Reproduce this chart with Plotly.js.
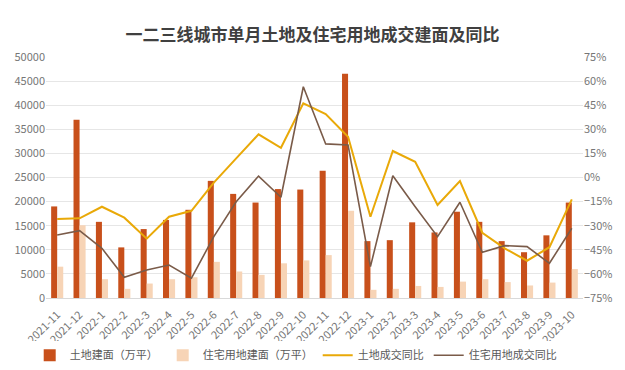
<!DOCTYPE html>
<html>
<head>
<meta charset="utf-8">
<script src="https://cdn.plot.ly/plotly-3.0.1.min.js"></script>
<style>html,body{margin:0;padding:0;background:#fff;}#chart{width:625px;height:370px;}</style>
</head>
<body>
<div id="chart"></div>
<script>
const months = ["2021-11","2021-12","2022-1","2022-2","2022-3","2022-4","2022-5","2022-6","2022-7","2022-8","2022-9","2022-10","2022-11","2022-12","2023-1","2023-2","2023-3","2023-4","2023-5","2023-6","2023-7","2023-8","2023-9","2023-10"];
const landArea = [19000,37000,15800,10500,14300,16200,18300,24300,21600,19800,22600,22500,26400,46500,11800,12000,15700,13600,17900,15800,11800,9500,13000,19800];
const residentialArea = [6500,15100,3900,1900,3000,3900,4300,7500,5500,4800,7200,7800,8900,18100,1700,1900,2500,2300,3400,3900,3300,2600,3200,6000];
const landYoY = [-25.8,-25.4,-18.2,-25.0,-38.1,-24.4,-20.7,-3.2,11.9,26.9,18.5,46.2,39.5,25.4,-24.4,16.5,9.8,-17.1,-2.2,-34.4,-44.1,-51.8,-43.4,-13.6];
const residentialYoY = [-35.8,-33.1,-44.1,-62.1,-57.6,-54.5,-62.7,-36.8,-15.1,0.9,-12.3,56.5,20.9,20.2,-55.5,1.1,-18.2,-36.8,-15.4,-46.6,-42.4,-43.0,-53.4,-31.6];
const seriesNames = ["土地建面（万平）","住宅用地建面（万平）","土地成交同比","住宅用地成交同比"];
const titleText = "一二三线城市单月土地及住宅用地成交建面及同比";

const font = "'Noto Sans CJK SC', 'Noto Sans', sans-serif";
const tickColor = '#767676';
const traces = [
  {type:'bar', name:seriesNames[0], x:months, y:landArea, marker:{color:'#C8501B'}, yaxis:'y'},
  {type:'bar', name:seriesNames[1], x:months, y:residentialArea, marker:{color:'#F7D4B6'}, yaxis:'y'},
  {type:'scatter', mode:'lines', name:seriesNames[2], x:months, y:landYoY, line:{color:'#E9A908', width:2}, yaxis:'y2'},
  {type:'scatter', mode:'lines', name:seriesNames[3], x:months, y:residentialYoY, line:{color:'#7A5B49', width:1.6}, yaxis:'y2'}
];
const layout = {
  width:625, height:370,
  margin:{l:46, r:42, t:57, b:72, autoexpand:false},
  paper_bgcolor:'#fff', plot_bgcolor:'#fff',
  font:{family:font, color:tickColor, size:11},
  title:{text:titleText, x:0.5, xanchor:'center', y:0.905, yanchor:'middle', font:{family:font, size:17, color:'#404040', weight:'bold'}},
  barmode:'group', bargap:0.46, bargroupgap:0,
  showlegend:true,
  legend:{orientation:'h', x:0.465, xanchor:'center', yref:'container', y:0.04, yanchor:'middle', font:{size:11, color:'#595959'}, itemwidth:30, tracegroupgap:0},
  xaxis:{type:'category', tickangle:-45, tickfont:{size:11, color:tickColor}, ticklabelstandoff:5, showgrid:false, showline:true, linecolor:'#d9d9d9', ticks:'', automargin:false},
  yaxis:{range:[0,50000], dtick:5000, tickformat:'d', showgrid:true, gridcolor:'#e6e6e6', zeroline:false, tickfont:{size:11, color:tickColor}, ticks:'', automargin:false},
  yaxis2:{overlaying:'y', side:'right', range:[-75,75], dtick:15, ticksuffix:'%', showgrid:false, zeroline:false, tickfont:{size:11, color:tickColor}, ticks:'', automargin:false}
};
Plotly.newPlot('chart', traces, layout, {displayModeBar:false, staticPlot:true});
</script>
</body>
</html>
